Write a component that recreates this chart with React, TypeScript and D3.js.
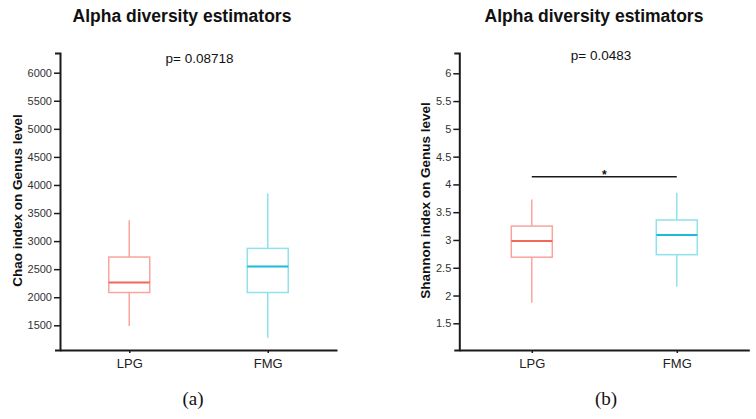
import React, { useEffect, useRef } from 'react';
import * as d3 from 'd3';

// groups and box statistics (min, q1, median, q3, max)
const groups = ['LPG', 'FMG'];
const chaoStats = [
  [1488, 2084, 2263, 2716, 3370],
  [1279, 2084, 2548, 2870, 3846],
];
const shannonStats = [
  [1.87, 2.69, 2.98, 3.25, 3.73],
  [2.16, 2.735, 3.09, 3.36, 3.85],
];
const chaoTicks = [1500, 2000, 2500, 3000, 3500, 4000, 4500, 5000, 5500, 6000];
const shannonTicks = [1.5, 2, 2.5, 3, 3.5, 4, 4.5, 5, 5.5, 6];
const pValues = ['p= 0.08718', 'p= 0.0483'];
const sigLevel = 4.14;

const boxColors = ['#f9a49e', '#8fe1ec'];
const medianColors = ['#f3665d', '#1cbbd7'];

interface PanelSpec {
  stats: number[][];
  ticks: number[];
  label: string;
  pText: string;
  caption: string;
  left: number;
  right: number;
  tickLo: [number, number]; // [value, pixel]
  tickHi: [number, number];
  titleX: number;
  pX: number;
  pY: number;
  labelX: number;
  captionX: number;
  sig?: number;
}

const panels: PanelSpec[] = [
  {
    stats: chaoStats, ticks: chaoTicks, label: 'Chao index on Genus level',
    pText: pValues[0], caption: '(a)', left: 60, right: 337,
    tickLo: [1500, 325.3], tickHi: [6000, 72.7],
    titleX: 182, pX: 199.5, pY: 63, labelX: 21.5, captionX: 193,
  },
  {
    stats: shannonStats, ticks: shannonTicks, label: 'Shannon index on Genus level',
    pText: pValues[1], caption: '(b)', left: 459.3, right: 749.3,
    tickLo: [1.5, 323.3], tickHi: [6, 73.3],
    titleX: 594, pX: 601, pY: 59.5, labelX: 430, captionX: 606, sig: sigLevel,
  },
];

const AXIS_TOP = 53;
const AXIS_BOTTOM = 350;

const App: React.FC = () => {
  const svgRef = useRef<SVGSVGElement>(null);

  useEffect(() => {
    if (!svgRef.current) return;
    const svg = d3.select(svgRef.current);
    svg.selectAll('*').remove();

    panels.forEach((p) => {
      const g = svg.append('g');

      // calibrate the value scale on two ticks, then stretch it to the axis extent
      const cal = d3.scaleLinear()
        .domain([p.tickLo[0], p.tickHi[0]])
        .range([p.tickLo[1], p.tickHi[1]]);
      const y = d3.scaleLinear()
        .domain([cal.invert(AXIS_BOTTOM), cal.invert(AXIS_TOP)])
        .range([AXIS_BOTTOM, AXIS_TOP]);

      const x = d3.scalePoint<string>()
        .domain(groups)
        .range([p.left, p.right])
        .padding(0.5);

      // title and p-value
      g.append('text')
        .attr('x', p.titleX).attr('y', 22)
        .attr('text-anchor', 'middle')
        .style('font', 'bold 17.5px "Liberation Sans", Arial, sans-serif')
        .style('fill', '#111')
        .text('Alpha diversity estimators');

      g.append('text')
        .attr('x', p.pX).attr('y', p.pY)
        .attr('text-anchor', 'middle')
        .style('font', '13.5px "Liberation Sans", Arial, sans-serif')
        .style('fill', '#111')
        .text(p.pText);

      // y axis
      const yAxis = g.append('g')
        .attr('transform', `translate(${p.left},0)`)
        .call(d3.axisLeft(y).tickValues(p.ticks).tickSize(6).tickSizeOuter(5).tickPadding(2)
          .tickFormat((d) => String(d)));
      yAxis.select('.domain').attr('stroke', '#1a1a1a').attr('stroke-width', 2);
      yAxis.selectAll('.tick line').attr('stroke', '#1a1a1a').attr('stroke-width', 1.5);
      yAxis.selectAll('.tick text')
        .style('font', '11px "Liberation Sans", Arial, sans-serif')
        .style('fill', '#333');

      // x axis
      const xAxis = g.append('g')
        .attr('transform', `translate(0,${AXIS_BOTTOM})`)
        .call(d3.axisBottom(x).tickSize(3).tickSizeOuter(0).tickPadding(5.5));
      xAxis.select('.domain').attr('stroke', '#1a1a1a').attr('stroke-width', 2);
      xAxis.selectAll('.tick line').attr('stroke', '#1a1a1a').attr('stroke-width', 1.5);
      xAxis.selectAll('.tick text')
        .style('font', '13px "Liberation Sans", Arial, sans-serif')
        .style('fill', '#222');

      // y axis title
      g.append('text')
        .attr('transform', `translate(${p.labelX},200.5) rotate(-90)`)
        .attr('text-anchor', 'middle')
        .style('font', 'bold 13.5px "Liberation Sans", Arial, sans-serif')
        .style('fill', '#111')
        .text(p.label);

      // boxes
      const boxW = 41;
      groups.forEach((name, i) => {
        const [mn, q1, med, q3, mx] = p.stats[i];
        const cx = x(name) as number;
        const bg = g.append('g');
        bg.append('line')
          .attr('x1', cx).attr('x2', cx).attr('y1', y(mx)).attr('y2', y(q3))
          .attr('stroke', boxColors[i]).attr('stroke-width', 1.5);
        bg.append('line')
          .attr('x1', cx).attr('x2', cx).attr('y1', y(q1)).attr('y2', y(mn))
          .attr('stroke', boxColors[i]).attr('stroke-width', 1.5);
        bg.append('rect')
          .attr('x', cx - boxW / 2).attr('y', y(q3))
          .attr('width', boxW).attr('height', y(q1) - y(q3))
          .attr('fill', 'none').attr('stroke', boxColors[i]).attr('stroke-width', 1.5);
        bg.append('line')
          .attr('x1', cx - boxW / 2).attr('x2', cx + boxW / 2)
          .attr('y1', y(med)).attr('y2', y(med))
          .attr('stroke', medianColors[i]).attr('stroke-width', 2);
      });

      // significance bracket
      if (p.sig !== undefined) {
        const x0 = x(groups[0]) as number;
        const x1 = x(groups[1]) as number;
        g.append('line')
          .attr('x1', x0).attr('x2', x1).attr('y1', y(p.sig)).attr('y2', y(p.sig))
          .attr('stroke', '#1a1a1a').attr('stroke-width', 1.5);
        g.append('text')
          .attr('x', (x0 + x1) / 2).attr('y', y(p.sig) + 2.5)
          .attr('text-anchor', 'middle')
          .style('font', 'bold 12px "Liberation Sans", Arial, sans-serif')
          .style('fill', '#111')
          .text('*');
      }

      // panel caption
      g.append('text')
        .attr('x', p.captionX).attr('y', 405)
        .attr('text-anchor', 'middle')
        .style('font', '19px "Liberation Serif", "Times New Roman", serif')
        .style('fill', '#111')
        .text(p.caption);
    });
  }, []);

  return (
    <svg
      ref={svgRef}
      width={756}
      height={419}
      viewBox="0 0 756 419"
      style={{ position: 'absolute', left: 0, top: 0, background: '#fff' }}
    />
  );
};

export default App;
